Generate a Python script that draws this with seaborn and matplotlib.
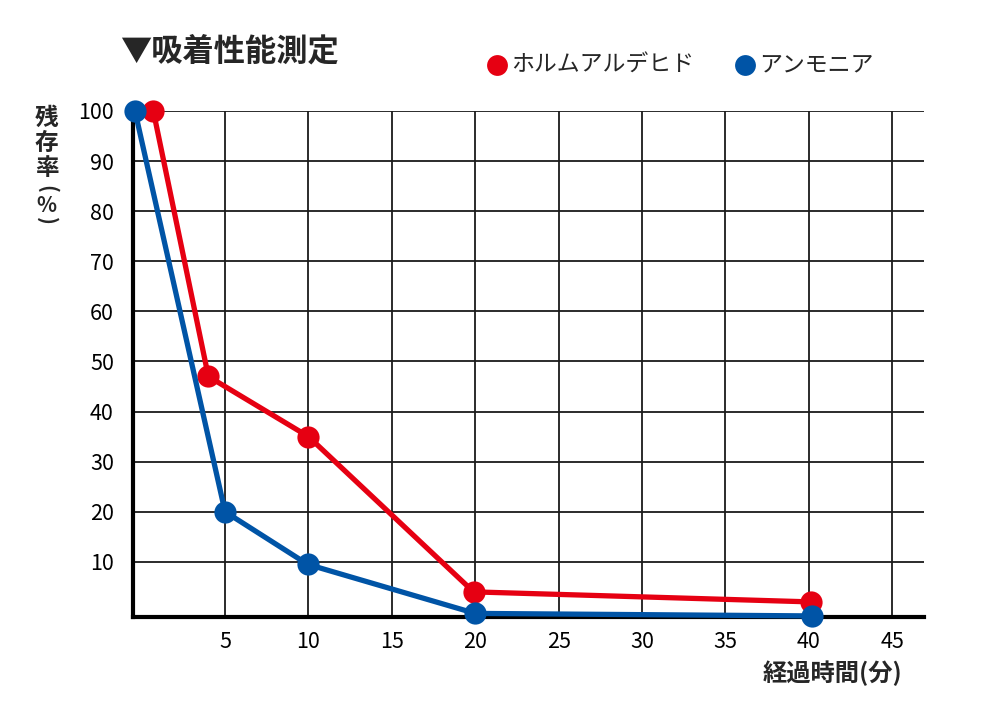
import matplotlib
matplotlib.use("Agg")
import matplotlib.pyplot as plt
import seaborn as sns
import pandas as pd

# data
form_x = [0.7, 4.0, 10.0, 19.9, 40.1]
form_y = [100, 47, 35, 4, 2]
amm_x = [-0.4, 5.0, 9.95, 20.0, 40.2]
amm_y = [100, 20, 9.5, -0.3, -0.8]
series_names = ["ホルムアルデヒド", "アンモニア"]
colors = ["#E60012", "#0054A6"]
xticks = [5, 10, 15, 20, 25, 30, 35, 40, 45]
yticks = [10, 20, 30, 40, 50, 60, 70, 80, 90, 100]
title = "▼吸着性能測定"
xlabel = "経過時間(分)"
ylabel_chars = ["残", "存", "率", "(", "%", ")"]

sns.set_theme(style="white")
plt.rcParams['font.family'] = ['Noto Sans CJK JP', 'DejaVu Sans']

df = pd.concat([
    pd.DataFrame({"x": form_x, "y": form_y, "s": series_names[0]}),
    pd.DataFrame({"x": amm_x, "y": amm_y, "s": series_names[1]}),
])

fig = plt.figure(figsize=(10, 7.01), dpi=100)
ax = fig.add_axes([0.1333, 0.1203, 0.924 - 0.1333, 0.8417 - 0.1203])

ax.set_xlim(-0.5, 46.9)
ax.set_ylim(-0.95, 100)
ax.set_xticks(xticks)
ax.set_yticks(yticks)
ax.grid(True, color="#1a1a1a", linewidth=1.3)
ax.set_axisbelow(True)

sns.lineplot(data=df, x="x", y="y", hue="s", palette=colors, hue_order=series_names,
             sort=False, estimator=None,
             marker="o", markersize=16, markeredgewidth=0, linewidth=3.8,
             ax=ax, legend=False)
for ln in ax.get_lines():
    ln.set_clip_on(False)
    ln.set_zorder(5)

for sp in ["top", "right"]:
    ax.spines[sp].set_visible(False)
for sp in ["left", "bottom"]:
    ax.spines[sp].set_color("black")
    ax.spines[sp].set_linewidth(3.0)
    ax.spines[sp].set_zorder(4)

ax.tick_params(axis="both", length=0, labelsize=15.5, colors="black")
ax.tick_params(axis="y", pad=14)
ax.tick_params(axis="x", pad=10)
ax.set_xlabel("")
ax.set_ylabel("")

fig.text(0.12, 1 - 52 / 701, title, fontsize=22.5, fontweight="bold", ha="left", va="center")
fig.text(0.902, 1 - 673 / 701, xlabel, fontsize=17.5, fontweight="bold", ha="right", va="center")

# vertical y label, one character per row
ylab_rows = [118, 143, 168, 189, 205, 221]
ylab_rot = [0, 0, 0, -90, 0, -90]
ylab_size = [17, 17, 17, 15, 15, 15]
for ch, yy, rot, fs in zip(ylabel_chars, ylab_rows, ylab_rot, ylab_size):
    fig.text(0.0467, 1 - yy / 701, ch, fontsize=fs, fontweight="bold", ha="center",
             va="center", rotation=rot)

# legend
fig.lines.append(plt.Line2D([0.497], [1 - 65 / 701], marker="o", markersize=15,
                            color=colors[0], markeredgewidth=0, transform=fig.transFigure))
fig.text(0.511, 1 - 65 / 701, series_names[0], fontsize=16.5, ha="left", va="center")
fig.lines.append(plt.Line2D([0.745], [1 - 65 / 701], marker="o", markersize=15,
                            color=colors[1], markeredgewidth=0, transform=fig.transFigure))
fig.text(0.759, 1 - 65 / 701, series_names[1], fontsize=16.5, ha="left", va="center")

fig.savefig("out.png", dpi=100)
